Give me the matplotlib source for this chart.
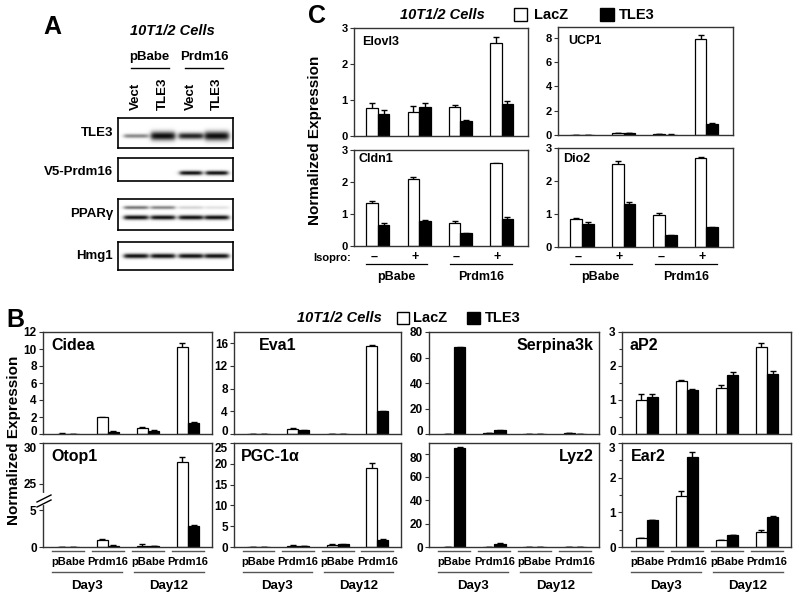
import numpy as np
import matplotlib
matplotlib.use('Agg')
import matplotlib.pyplot as plt
from matplotlib.patches import Rectangle
from matplotlib.lines import Line2D
from matplotlib import transforms

plt.rcParams['font.family'] = ['Liberation Sans', 'DejaVu Sans']
plt.rcParams['font.weight'] = 'bold'

# ---------------- data ----------------
# Panel A: western blot band intensities (0-1)
blot_lanes = ['Vect', 'TLE3', 'Vect', 'TLE3']
blot_groups = ['pBabe', 'Prdm16']
blot_rows = ['TLE3', 'V5-Prdm16', 'PPARγ', 'Hmg1']
band_tle3 = [0.35, 0.95, 0.65, 1.0]
band_v5_prdm16 = [0.0, 0.0, 0.9, 0.9]
band_ppar_upper = [0.40, 0.35, 0.12, 0.08]
band_ppar_lower = [0.85, 0.80, 0.90, 0.80]
band_hmg1 = [0.85, 0.85, 0.80, 0.90]

# Panel C: 10T1/2 cells, isoproterenol
c_groups = ['pBabe', 'Prdm16']
c_isopro = ['–', '+', '–', '+']
elovl3_lacz = [0.78, 0.67, 0.80, 2.58]
elovl3_lacz_err = [0.15, 0.15, 0.07, 0.17]
elovl3_tle3 = [0.60, 0.80, 0.41, 0.89]
elovl3_tle3_err = [0.12, 0.12, 0.04, 0.07]
ucp1_lacz = [0.03, 0.18, 0.06, 7.9]
ucp1_lacz_err = [0.01, 0.02, 0.01, 0.35]
ucp1_tle3 = [0.02, 0.15, 0.04, 0.9]
ucp1_tle3_err = [0.01, 0.02, 0.01, 0.07]
cldn1_lacz = [1.35, 2.08, 0.73, 2.58]
cldn1_lacz_err = [0.05, 0.07, 0.05, 0.02]
cldn1_tle3 = [0.66, 0.77, 0.40, 0.85]
cldn1_tle3_err = [0.05, 0.03, 0.02, 0.07]
dio2_lacz = [0.84, 2.52, 0.98, 2.70]
dio2_lacz_err = [0.05, 0.09, 0.06, 0.02]
dio2_tle3 = [0.70, 1.30, 0.35, 0.60]
dio2_tle3_err = [0.05, 0.07, 0.02, 0.02]

# Panel B: day3 / day12 differentiation
b_groups = ['pBabe', 'Prdm16', 'pBabe', 'Prdm16']
b_days = ['Day3', 'Day12']
cidea_lacz = [0.05, 1.95, 0.70, 10.2]
cidea_lacz_err = [0.01, 0.08, 0.12, 0.55]
cidea_tle3 = [0.04, 0.28, 0.30, 1.32]
cidea_tle3_err = [0.01, 0.06, 0.12, 0.08]
eva1_lacz = [0.05, 0.90, 0.05, 15.5]
eva1_lacz_err = [0.0, 0.15, 0.0, 0.12]
eva1_tle3 = [0.03, 0.65, 0.02, 4.0]
eva1_tle3_err = [0.0, 0.06, 0.0, 0.1]
serpina3k_lacz = [0.2, 0.4, 0.3, 0.4]
serpina3k_lacz_err = [0.0, 0.0, 0.0, 0.0]
serpina3k_tle3 = [68.0, 2.8, 0.3, 0.1]
serpina3k_tle3_err = [0.5, 0.4, 0.0, 0.0]
ap2_lacz = [1.00, 1.56, 1.35, 2.56]
ap2_lacz_err = [0.17, 0.04, 0.08, 0.13]
ap2_tle3 = [1.09, 1.29, 1.73, 1.76]
ap2_tle3_err = [0.10, 0.04, 0.08, 0.10]
otop1_lacz = [0.05, 0.9, 0.2, 27.7]
otop1_lacz_err = [0.0, 0.15, 0.15, 0.6]
otop1_tle3 = [0.05, 0.2, 0.15, 2.8]
otop1_tle3_err = [0.0, 0.05, 0.05, 0.15]
pgc_lacz = [0.05, 0.35, 0.60, 18.9]
pgc_lacz_err = [0.0, 0.05, 0.08, 1.2]
pgc_tle3 = [0.03, 0.20, 0.70, 1.6]
pgc_tle3_err = [0.0, 0.03, 0.10, 0.25]
lyz2_lacz = [0.2, 0.3, 0.3, 0.4]
lyz2_lacz_err = [0.0, 0.0, 0.0, 0.0]
lyz2_tle3 = [85.0, 2.6, 0.3, 0.1]
lyz2_tle3_err = [0.3, 0.4, 0.0, 0.0]
ear2_lacz = [0.26, 1.46, 0.20, 0.44]
ear2_lacz_err = [0.0, 0.15, 0.0, 0.06]
ear2_tle3 = [0.79, 2.60, 0.35, 0.87]
ear2_tle3_err = [0.0, 0.13, 0.0, 0.02]

# ---------------- figure ----------------
W, H = 800, 600
fig = plt.figure(figsize=(8, 6), dpi=100)
SP = '#333333'


def axes_px(x0, y0, x1, y1):
    return fig.add_axes([x0 / W, 1 - y1 / H, (x1 - x0) / W, (y1 - y0) / H])


def txt(x, y, s, **kw):
    kw.setdefault('ha', 'center')
    kw.setdefault('va', 'center')
    kw.setdefault('fontweight', 'bold')
    return fig.text(x / W, 1 - y / H, s, **kw)


def hline(x0, x1, y, color='black', lw=1.0):
    fig.add_artist(Line2D([x0 / W, x1 / W], [1 - y / H, 1 - y / H],
                          transform=fig.transFigure, color=color, lw=lw))


def style_ax(ax, fs=8):
    for s in ax.spines.values():
        s.set_color(SP)
        s.set_linewidth(1.0)
    ax.set_xticks([])
    ax.tick_params(axis='y', direction='out', length=3, width=0.8,
                   labelsize=fs, pad=1.5, color=SP)
    ax.tick_params(axis='y', which='minor', direction='out', length=2.5, width=0.8, color=SP)
    for lab in ax.get_yticklabels():
        lab.set_fontweight('bold')


def bars(ax, lacz, lacz_err, tle3, tle3_err, w=0.28):
    x = np.arange(len(lacz))
    ax.errorbar(x - w / 2, lacz, yerr=lacz_err, fmt='none', ecolor='black',
                elinewidth=1, capsize=2.5, capthick=1, zorder=1)
    ax.errorbar(x + w / 2, tle3, yerr=tle3_err, fmt='none', ecolor='black',
                elinewidth=1, capsize=2.5, capthick=1, zorder=1)
    ax.bar(x - w / 2, lacz, w, color='white', edgecolor='black', lw=0.9, zorder=2)
    ax.bar(x + w / 2, tle3, w, color='black', edgecolor='black', lw=0.9, zorder=2)


# ---------------- Panel A ----------------
txt(52, 27, 'A', fontsize=18)
txt(172, 31, '10T1/2 Cells', fontsize=10.5, style='italic')
lane_x = [136, 163, 191, 217]
for i, g in enumerate(blot_groups):
    cx = (lane_x[2 * i] + lane_x[2 * i + 1]) / 2
    txt(cx, 57, g, fontsize=9.5)
    hline(cx - 19, cx + 19, 68, lw=1.0)
for lx, lab in zip(lane_x, blot_lanes):
    txt(lx, 110, lab, fontsize=9.5, rotation=90, va='bottom')


def draw_blot(top, bottom, bands, label, label_y):
    ax = axes_px(118, top, 233, bottom)
    xs = np.linspace(118, 233, 300)
    ys = np.linspace(top, bottom, int((bottom - top) * 4))
    X, Y = np.meshgrid(xs, ys)
    dark = np.zeros_like(X)
    for inten, cy, base, gain, hw in bands:
        for cx, I in zip(lane_x, inten):
            if I <= 0:
                continue
            s = base + gain * I
            hp = 1 / (1 + np.exp((np.abs(X - cx) - hw) / 1.3))
            vp = np.exp(-((Y - cy) / s) ** 2)
            dark += min(1.0, I * 1.4) * hp * vp
    img = 1 - 0.95 * np.clip(dark, 0, 1)
    ax.imshow(img, cmap='gray', vmin=0, vmax=1, extent=(118, 233, bottom, top),
              aspect='auto', interpolation='bilinear')
    ax.set_xlim(118, 233)
    ax.set_ylim(bottom, top)
    ax.set_xticks([])
    ax.set_yticks([])
    for s in ax.spines.values():
        s.set_linewidth(1.2)
    txt(113, label_y, label, fontsize=9.5, ha='right')


draw_blot(118, 148, [(band_tle3, 136, 0.8, 3.8, 12)], blot_rows[0], 133)
draw_blot(158, 181, [(band_v5_prdm16, 173, 2.2, 0.0, 11)], blot_rows[1], 172)
draw_blot(199, 230, [(band_ppar_upper, 207.5, 1.8, 0.0, 12),
                     (band_ppar_lower, 217.5, 2.3, 0.0, 12)], blot_rows[2], 214)
draw_blot(242, 270, [(band_hmg1, 256, 2.4, 0.0, 12)], blot_rows[3], 256)

# ---------------- Panel C ----------------
txt(317, 16, 'C', fontsize=18)
txt(442, 15, '10T1/2 Cells', fontsize=10.5, style='italic')
fig.add_artist(Rectangle((514 / W, 1 - 21 / H), 13 / W, 13 / H, transform=fig.transFigure,
                         facecolor='white', edgecolor='black', lw=1))
txt(534, 15, 'LacZ', fontsize=10.5, ha='left')
fig.add_artist(Rectangle((600 / W, 1 - 21 / H), 14 / W, 13 / H, transform=fig.transFigure,
                         facecolor='black', edgecolor='black', lw=1))
txt(619, 15, 'TLE3', fontsize=10.5, ha='left')
txt(315, 140, 'Normalized Expression', fontsize=11, rotation=90)

c_panels = [
    ((354, 28, 528, 136), 'Elovl3', elovl3_lacz, elovl3_lacz_err, elovl3_tle3, elovl3_tle3_err,
     (0, 3), [0, 1, 2, 3], (0.045, 0.87), False),
    ((354, 150, 528, 246), 'Cldn1', cldn1_lacz, cldn1_lacz_err, cldn1_tle3, cldn1_tle3_err,
     (0, 3), [0, 1, 2, 3], (0.025, 0.91), True),
    ((558, 27, 733, 135), 'UCP1', ucp1_lacz, ucp1_lacz_err, ucp1_tle3, ucp1_tle3_err,
     (0, 8.9), [0, 2, 4, 6, 8], (0.06, 0.87), False),
    ((558, 148, 733, 247), 'Dio2', dio2_lacz, dio2_lacz_err, dio2_tle3, dio2_tle3_err,
     (0, 3), [0, 1, 2, 3], (0.03, 0.89), True),
]
for (box, title, la, lae, tl, tle, ylim, yt, tpos, bottom) in c_panels:
    ax = axes_px(*box)
    bars(ax, la, lae, tl, tle)
    ax.set_xlim(-0.58, 3.64)
    ax.set_ylim(*ylim)
    ax.set_yticks(yt)
    style_ax(ax, fs=8)
    ax.text(tpos[0], tpos[1], title, transform=ax.transAxes, fontsize=9,
            fontweight='bold', ha='left', va='center')
    if bottom:
        bt = transforms.blended_transform_factory(ax.transData, fig.transFigure)
        for i, s in enumerate(c_isopro):
            ax.text(i - 0.1, 1 - 257 / H, s, transform=bt, fontsize=9,
                    fontweight='bold', ha='center', va='center')
        for (a, b), g in zip([(-0.3, 1.2), (1.75, 3.25)], c_groups):
            ax.plot([a, b], [1 - 264 / H] * 2, transform=bt, color='black',
                    lw=0.9, clip_on=False)
            ax.text((a + b) / 2, 1 - 277 / H, g, transform=bt, fontsize=9,
                    fontweight='bold', ha='center', va='center')
txt(332, 258, 'Isopro:', fontsize=8)

# ---------------- Panel B ----------------
txt(15, 320, 'B', fontsize=18)
txt(339, 318, '10T1/2 Cells', fontsize=10.5, style='italic')
fig.add_artist(Rectangle((397 / W, 1 - 324 / H), 12 / W, 12 / H, transform=fig.transFigure,
                         facecolor='white', edgecolor='black', lw=1))
txt(413, 318, 'LacZ', fontsize=10.5, ha='left')
fig.add_artist(Rectangle((467 / W, 1 - 324 / H), 13 / W, 12 / H, transform=fig.transFigure,
                         facecolor='black', edgecolor='black', lw=1))
txt(485, 318, 'TLE3', fontsize=10.5, ha='left')
txt(14, 440, 'Normalized Expression', fontsize=11, rotation=90)


def otop_fwd(y):
    y = np.asarray(y, float)
    return np.where(y <= 7, 7.4 * y,
                    np.where(y < 24, 51.8 + (y - 7) * 0.2, 55.2 + (y - 24) * 8.2))


def otop_inv(f):
    f = np.asarray(f, float)
    return np.where(f <= 51.8, f / 7.4,
                    np.where(f < 55.2, 7 + (f - 51.8) / 0.2, 24 + (f - 55.2) / 8.2))


R1 = (332, 434)
R2 = (443, 547)
COLS = [(43, 212), (234, 401), (429, 599), (622, 791)]
b_panels = [
    (0, 0, 'Cidea', cidea_lacz, cidea_lacz_err, cidea_tle3, cidea_tle3_err,
     (0, 12), [0, 2, 4, 6, 8, 10, 12], 'L', 0.05),
    (0, 1, 'Eva1', eva1_lacz, eva1_lacz_err, eva1_tle3, eva1_tle3_err,
     (0, 18), [0, 4, 8, 12, 16], 'L', 0.15),
    (0, 2, 'Serpina3k', serpina3k_lacz, serpina3k_lacz_err, serpina3k_tle3, serpina3k_tle3_err,
     (0, 80), [0, 20, 40, 60, 80], 'R', 0.965),
    (0, 3, 'aP2', ap2_lacz, ap2_lacz_err, ap2_tle3, ap2_tle3_err,
     (0, 3), [0, 1, 2, 3], 'L', 0.045),
    (1, 0, 'Otop1', otop1_lacz, otop1_lacz_err, otop1_tle3, otop1_tle3_err,
     (0, 30), [0, 5, 25, 30], 'L', 0.05),
    (1, 1, 'PGC-1α', pgc_lacz, pgc_lacz_err, pgc_tle3, pgc_tle3_err,
     (0, 25), [0, 5, 10, 15, 20, 25], 'L', 0.04),
    (1, 2, 'Lyz2', lyz2_lacz, lyz2_lacz_err, lyz2_tle3, lyz2_tle3_err,
     (0, 89), [0, 20, 40, 60, 80], 'R', 0.97),
    (1, 3, 'Ear2', ear2_lacz, ear2_lacz_err, ear2_tle3, ear2_tle3_err,
     (0, 3), [0, 1, 2, 3], 'L', 0.05),
]
for (r, c, title, la, lae, tl, tle, ylim, yt, align, tx) in b_panels:
    y0, y1 = (R1, R2)[r]
    x0, x1 = COLS[c]
    ax = axes_px(x0, y0, x1, y1)
    if title == 'Otop1':
        ax.set_yscale('function', functions=(otop_fwd, otop_inv))
    bars(ax, la, lae, tl, tle)
    ax.set_xlim(-0.62, 3.6)
    ax.set_ylim(*ylim)
    ax.set_yticks(yt)
    ax.set_yticklabels([str(v) for v in yt])
    if title in ('aP2', 'Ear2'):
        ax.set_yticks([0.5, 1.5, 2.5], minor=True)
    else:
        ax.set_yticks([], minor=True)
    style_ax(ax, fs=8.5)
    labs = ax.get_yticklabels()
    if r == 0:
        labs[0].set_transform(labs[0].get_transform() +
                              transforms.ScaledTranslation(0, 2.5 / 72, fig.dpi_scale_trans))
    else:
        labs[-1].set_transform(labs[-1].get_transform() +
                               transforms.ScaledTranslation(0, -3 / 72, fig.dpi_scale_trans))
    ax.text(tx, 0.87, title, transform=ax.transAxes, fontsize=11.5, fontweight='bold',
            ha='left' if align == 'L' else 'right', va='center')
    if r == 1:
        bt = transforms.blended_transform_factory(ax.transData, fig.transFigure)
        for i, g in enumerate(b_groups):
            ax.plot([i - 0.4, i + 0.4], [1 - 551 / H] * 2, transform=bt, color='#555555',
                    lw=1.0, clip_on=False)
            ax.text(i, 1 - 562 / H, g, transform=bt, fontsize=8, fontweight='bold',
                    ha='center', va='center')
        for (a, b), d in zip([(-0.4, 1.35), (1.65, 3.4)], b_days):
            ax.plot([a, b], [1 - 572 / H] * 2, transform=bt, color='#555555',
                    lw=1.0, clip_on=False)
            ax.text((a + b) / 2, 1 - 586 / H, d, transform=bt, fontsize=9.5,
                    fontweight='bold', ha='center', va='center')

# axis break marks on Otop1
fig.add_artist(Line2D([43 / W, 43 / W], [1 - 495 / H, 1 - 503 / H], transform=fig.transFigure,
                      color='white', lw=3))
for dy in (0, 5):
    fig.add_artist(Line2D([37 / W, 51 / W], [1 - (502 + dy) / H, 1 - (495 + dy) / H],
                          transform=fig.transFigure, color='black', lw=1.0))

fig.savefig('out.png', dpi=100)
